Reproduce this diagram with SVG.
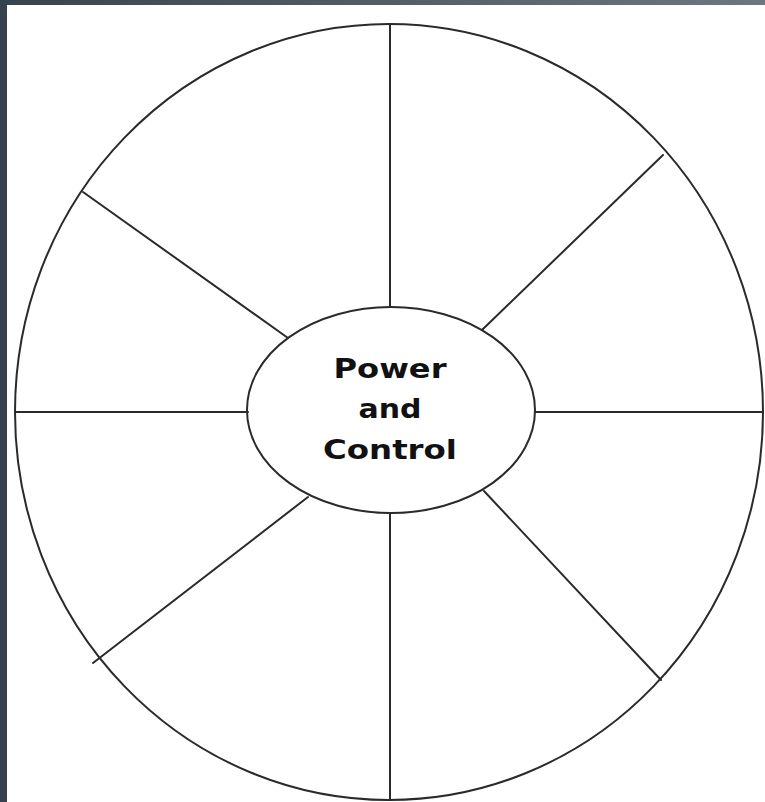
<svg xmlns="http://www.w3.org/2000/svg" width="765" height="802" viewBox="0 0 765 802">
<defs>
<linearGradient id="band" x1="0" y1="0" x2="1" y2="0">
<stop offset="0" stop-color="#37444f"/>
<stop offset="1" stop-color="#6b7781"/>
</linearGradient>
<style>
.ln{stroke:#2a2a2a;stroke-width:2;fill:none;stroke-linecap:round}
.lbl{font-family:"DejaVu Sans",Verdana,sans-serif;font-weight:bold;font-size:27px;fill:#111;text-anchor:middle}
</style>
</defs>
<rect x="0" y="0" width="765" height="802" fill="#ffffff"/>
<rect x="0" y="0" width="765" height="5" fill="url(#band)"/>
<rect x="0" y="0" width="7" height="802" fill="#36434e"/>
<g id="outer">
<ellipse class="ln" cx="389" cy="412" rx="374" ry="388"/>
</g>
<g id="connectors">
<line class="ln" x1="390" y1="24" x2="390" y2="307"/>
<line class="ln" x1="390" y1="514" x2="390" y2="800"/>
<line class="ln" x1="15" y1="412" x2="248" y2="412"/>
<line class="ln" x1="535" y1="412" x2="763" y2="412"/>
<line class="ln" x1="83" y1="192" x2="288" y2="338"/>
<line class="ln" x1="663" y1="155" x2="482" y2="330"/>
<line class="ln" x1="93" y1="663" x2="308" y2="497"/>
<line class="ln" x1="661" y1="680" x2="484" y2="491"/>
</g>
<g id="center">
<ellipse class="ln" cx="391" cy="410" rx="144" ry="103" fill="#ffffff"/>
<text class="lbl" x="390" y="378" textLength="113" lengthAdjust="spacingAndGlyphs">Power</text>
<text class="lbl" x="390" y="418" textLength="63" lengthAdjust="spacingAndGlyphs">and</text>
<text class="lbl" x="390" y="459" textLength="134" lengthAdjust="spacingAndGlyphs">Control</text>
</g>
</svg>
